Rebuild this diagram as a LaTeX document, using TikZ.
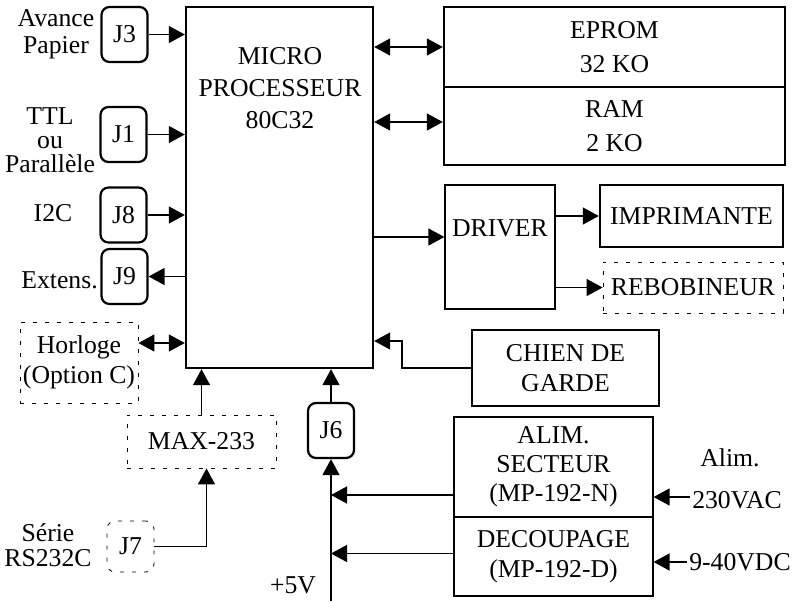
\documentclass[tikz,border=0pt]{standalone}
\usepackage{fontspec}
\setmainfont{LiberationSerif}[Extension=.ttf, UprightFont=*-Regular, BoldFont=*-Bold, ItalicFont=*-Italic]
\usetikzlibrary{positioning, arrows.meta}

\begin{document}
\begin{tikzpicture}[
    x=0.5pt, y=-0.5pt,
    every node/.style={font=\fontsize{12.85pt}{16pt}\selectfont},
    box/.style={rectangle, draw, line width=1.2pt, inner sep=0pt, align=center},
    thinbox/.style={rectangle, draw, line width=0.6pt, inner sep=0pt, align=center},
    jack/.style={rectangle, draw, rounded corners=4pt, line width=1.1pt, minimum width=23pt, minimum height=27.5pt, inner sep=0pt},
    optbox/.style={rectangle, draw, dash pattern=on 2pt off 4pt, line width=0.4pt, inner sep=0pt, align=center},
    txt/.style={align=center, inner sep=1pt},
    arr/.style={-{Triangle[length=8pt, width=8.5pt]}, line width=0.7pt},
    biarr/.style={{Triangle[length=8pt, width=8.5pt]}-{Triangle[length=8pt, width=8.5pt]}, line width=0.7pt},
]
\useasboundingbox (0,0) rectangle (794,601);

% processeur
\node[box, minimum width=93.5pt, minimum height=180.5pt] (micro) at (279.5,187.5) {};
\node[txt] (microtxt) at (280,88) {MICRO\\PROCESSEUR\\80C32};

% memoires
\node[box, minimum width=170.5pt, minimum height=40pt, font=\fontsize{12.85pt}{17pt}\selectfont] (eprom) at (614.5,47) {EPROM\\32 KO};
\node[box, minimum width=170.5pt, minimum height=39pt, font=\fontsize{12.85pt}{17pt}\selectfont] (ram) at (614.5,126) {RAM\\2 KO};

% sorties imprimante
\node[thinbox, minimum width=55pt, minimum height=62pt, label={[yshift=9.5pt]center:DRIVER}] (driver) at (500,247) {};
\node[box, minimum width=91.5pt, minimum height=31pt] (imprim) at (691.5,216) {IMPRIMANTE};
\node[optbox, minimum width=90pt, minimum height=25.5pt] (rebob) at (693,287.5) {REBOBINEUR};
\node[box, minimum width=93.5pt, minimum height=38pt, font=\fontsize{12.85pt}{15pt}\selectfont] (chien) at (565.5,368) {CHIEN DE\\GARDE};

% alimentation
\node[thinbox, minimum width=99.5pt, minimum height=50pt, font=\fontsize{12.85pt}{14.5pt}\selectfont] (alim) at (553.5,467) {ALIM.\\SECTEUR\\(MP-192-N)};
\node[thinbox, minimum width=99.5pt, minimum height=39.5pt, font=\fontsize{12.85pt}{15pt}\selectfont] (decoup) at (553.5,556.5) {DECOUPAGE\\(MP-192-D)};
\node[txt] (alimlbl) at (730,458) {Alim.};
\node[txt] (vac) at (737,500) {230VAC};
\node[txt] (vdc) at (740,562) {9-40VDC};

% connecteurs
\node[jack] (j3) at (124.5,34.5) {J3};
\node[jack] (j1) at (123.5,134.5) {J1};
\node[jack] (j8) at (123.5,215) {J8};
\node[jack] (j9) at (124.5,276.5) {J9};
\node[jack] (j6) at (331,430.5) {J6};
\node[optbox, rounded corners=4pt, minimum width=23.5pt, minimum height=25.5pt] (j7) at (130.5,546.5) {J7};
\node[optbox, minimum width=74.5pt, minimum height=26.5pt] (max) at (201.5,441.5) {MAX-233};
\node[optbox, minimum width=59pt, minimum height=40.5pt, font=\fontsize{12.85pt}{15pt}\selectfont] (horloge) at (79,362.5) {Horloge\\(Option C)};

\node[txt, font=\fontsize{12.85pt}{13.5pt}\selectfont] (avance) at (56,34) {Avance\\Papier};
\node[txt, font=\fontsize{12.85pt}{12pt}\selectfont] (ttl) at (50,140) {TTL\\ou\\Parallèle};
\node[txt] (i2c) at (53,213) {I2C};
\node[txt] (extens) at (59.5,280) {Extens.};
\node[txt, font=\fontsize{12.85pt}{12.5pt}\selectfont] (serie) at (48,545) {Série\\RS232C};
\node[txt] (p5v) at (293,585) {+5V};
\coordinate (vbus) at (331,601);

% liaisons
\draw[arr] (j3.east) -- (j3.east -| micro.west);
\draw[arr] (j1.east) -- (j1.east -| micro.west);
\draw[arr] (j8.east) -- (j8.east -| micro.west);
\draw[arr] (j9.east -| micro.west) -- (j9.east);
\draw[biarr] ([yshift=9.75pt]horloge.east) -- ([yshift=9.75pt]horloge.east -| micro.west);
\draw[arr] (max.north) -- (max.north |- micro.south);
\draw[arr] (j7.east) -| ([xshift=2.5pt]max.south);
\draw[arr] (j6.north) -- (j6.north |- micro.south);
\draw[arr] (vbus) -- (j6.south);

\draw[biarr] (micro.east |- eprom) -- (eprom.west);
\draw[biarr] ([yshift=2pt]micro.east |- ram) -- ([yshift=2pt]ram.west);
\draw[arr] ([yshift=5pt]driver.west -| micro.east) -- ([yshift=5pt]driver.west);
\draw[arr] (driver.east |- imprim.west) -- (imprim.west);
\draw[arr] (driver.east |- rebob.west) -- (rebob.west);

\coordinate (cgbend) at (402,341);
\draw[arr] (chien.west) -| (cgbend) -- (cgbend -| micro.east);

\coordinate (a1) at ([yshift=-14pt]alim.west);
\draw[arr] (a1) -- (a1 -| vbus);
\coordinate (a2) at ([yshift=1.5pt]decoup.west);
\draw[arr] (a2) -- (a2 -| vbus);
\draw[arr] ([yshift=1.5pt]vac.west) -- ([yshift=1.5pt]vac.west -| alim.east);
\draw[arr] (vdc.west) -- (vdc.west -| decoup.east);

\end{tikzpicture}
\end{document}
